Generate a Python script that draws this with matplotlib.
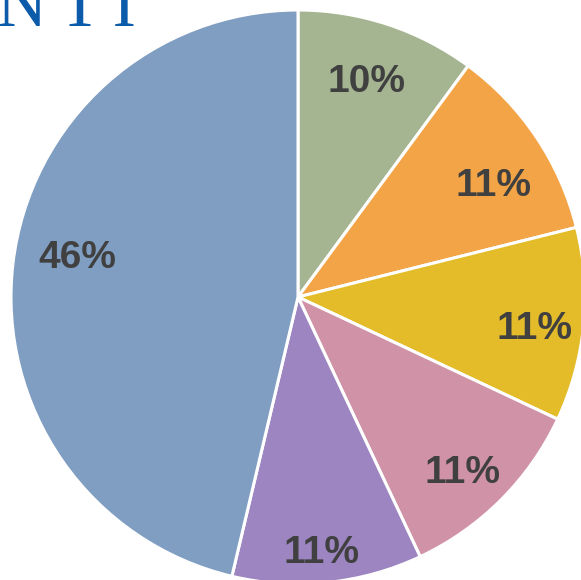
import numpy as np
import matplotlib.pyplot as plt

# ===== data =====
shares = [10.1, 11.0, 10.9, 11.0, 10.7, 46.3]
colors = ["#A5B592", "#F3A447", "#E4BC29", "#D092A7", "#9C85C0", "#809EC2"]
# where each percentage label sits: fraction of radius, and turn (deg) off the wedge middle
label_dist = [0.787, 0.782, 0.833, 0.840, 0.895, 0.782]
label_turn = [-0.4, 4.2, 2.1, 1.9, 0.8, 3.3]
title_text = "N\u200a\u200aT\u200a\u200aI"

# pixel geometry of the reference (581 x 580)
W, H = 581, 580
CX, CY, R = 298, 297, 287


def main():
    fig = plt.figure(figsize=(W / 100, H / 100), dpi=100)
    ax = fig.add_axes([(CX - R) / W, (H - CY - R) / H, 2 * R / W, 2 * R / H])
    wedges, texts, autotexts = ax.pie(
        shares,
        colors=colors,
        startangle=90,
        counterclock=False,
        autopct=lambda p: f"{p:.0f}%",
        pctdistance=0.78,
        wedgeprops={"edgecolor": "white", "linewidth": 2.2},
        textprops={"fontsize": 28, "fontweight": "bold", "color": "#404040",
                   "family": "Liberation Sans"},
    )
    # counterclock=False -> positive turn means clockwise on screen
    for w, t, d, turn in zip(wedges, autotexts, label_dist, label_turn):
        mid = np.deg2rad((w.theta1 + w.theta2) / 2 - turn)
        t.set_position((d * np.cos(mid), d * np.sin(mid)))
    ax.set_xlim(-1, 1)
    ax.set_ylim(-1, 1)
    ax.set_aspect("equal")
    ax.axis("off")

    fig.text(-3 / W, (H - 26) / H, title_text, fontsize=50, color="#0B5BAA",
             family=["Liberation Serif", "DejaVu Serif"], va="baseline", ha="left")

    fig.savefig("out.png", dpi=100)


if __name__ == "__main__":
    main()
